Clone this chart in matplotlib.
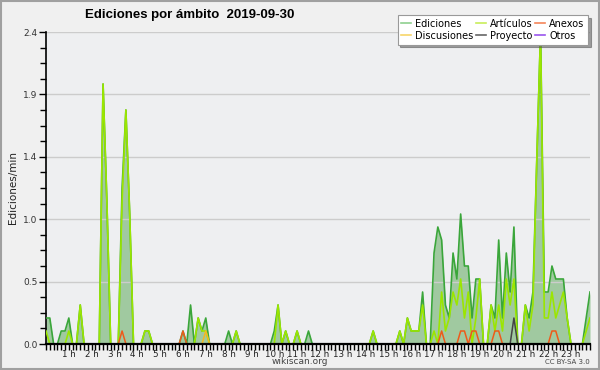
import matplotlib
matplotlib.use("Agg")
import matplotlib.pyplot as plt
from matplotlib.lines import Line2D
from matplotlib.ticker import MultipleLocator
import numpy as np

# 10-minute bins over the day, edits per minute
hour_labels = [f"{h} h" for h in range(1, 24)]

ediciones = [
    0.2, 0.2, 0, 0, 0.1, 0.1,
    0.2, 0, 0, 0.3, 0, 0,
    0, 0, 0, 2.0, 1.1, 0,
    0, 0, 1.2, 1.8, 1.0, 0,
    0, 0, 0.1, 0.1, 0, 0,
    0, 0, 0, 0, 0, 0,
    0.1, 0, 0.3, 0, 0.2, 0.1,
    0.2, 0, 0, 0, 0, 0,
    0.1, 0, 0.1, 0, 0, 0,
    0, 0, 0, 0, 0, 0,
    0.1, 0.3, 0, 0.1, 0, 0,
    0.1, 0, 0, 0.1, 0, 0,
    0, 0, 0, 0, 0, 0,
    0, 0, 0, 0, 0, 0,
    0, 0, 0.1, 0, 0, 0,
    0, 0, 0, 0.1, 0, 0.2,
    0.1, 0.1, 0.1, 0.4, 0, 0,
    0.7, 0.9, 0.8, 0.3, 0.2, 0.7,
    0.5, 1.0, 0.6, 0.6, 0.2, 0.5,
    0.5, 0, 0, 0.3, 0.2, 0.8,
    0.2, 0.7, 0.4, 0.9, 0, 0,
    0.3, 0.2, 0.4, 1.4, 2.4, 0.4,
    0.4, 0.6, 0.5, 0.5, 0.5, 0.2,
    0, 0, 0, 0, 0.2, 0.4,
]

articulos = [
    0.1, 0, 0, 0, 0, 0,
    0.1, 0, 0, 0.3, 0, 0,
    0, 0, 0, 2.0, 1.1, 0,
    0, 0, 1.1, 1.8, 1.0, 0,
    0, 0, 0.1, 0.1, 0, 0,
    0, 0, 0, 0, 0, 0,
    0, 0, 0, 0, 0.2, 0.1,
    0.1, 0, 0, 0, 0, 0,
    0, 0, 0.1, 0, 0, 0,
    0, 0, 0, 0, 0, 0,
    0, 0.3, 0, 0.1, 0, 0,
    0.1, 0, 0, 0, 0, 0,
    0, 0, 0, 0, 0, 0,
    0, 0, 0, 0, 0, 0,
    0, 0, 0.1, 0, 0, 0,
    0, 0, 0, 0.1, 0, 0.2,
    0.1, 0.1, 0.1, 0.3, 0, 0,
    0.1, 0, 0.4, 0.1, 0.2, 0.4,
    0.3, 0.5, 0.2, 0.4, 0, 0.2,
    0.5, 0, 0, 0.3, 0.1, 0.3,
    0.1, 0.5, 0.3, 0.5, 0, 0,
    0.3, 0.1, 0.3, 1.4, 2.4, 0.2,
    0.2, 0.4, 0.2, 0.3, 0.4, 0.2,
    0, 0, 0, 0, 0.1, 0.2,
]

anexos = [0.0] * 144
for i in [20, 36, 104, 109, 110, 112, 113, 118, 119, 133, 134]:
    anexos[i] = 0.1

discusiones = [0.0] * 144
discusiones[42] = 0.1

proyecto = [0.0] * 144
proyecto[123] = 0.2

otros = [0.0] * 144

x = np.arange(len(ediciones))

BG = "#eeeff1"
fig = plt.figure(figsize=(6, 3.7), dpi=100, facecolor="#f0f0f0")
ax = fig.add_axes([46 / 600, 26 / 370, 544 / 600, 312 / 370])
ax.set_facecolor(BG)

ax.fill_between(x, 0, ediciones, color="#a0c9a0", lw=0, zorder=1)
ax.plot(x, ediciones, color="#3aa63a", lw=1.2, zorder=3)
ax.plot(x, articulos, color="#9be600", lw=1.2, zorder=4)
ax.plot(x, discusiones, color="#f5b820", lw=1.1, zorder=5)
ax.plot(x, anexos, color="#ee5a1a", lw=1.1, zorder=5)
ax.plot(x, proyecto, color="#444444", lw=1.1, zorder=5)
ax.plot(x, otros, color="#8844ee", lw=1.1, zorder=2)

ax.set_xlim(0, 143)
ax.set_ylim(0, 2.4)

# y ticks
yt = np.arange(0, 2.41, 0.48)
ax.set_yticks(yt)
ax.set_yticklabels([f"{v:.1f}" for v in yt], fontsize=6.5, color="#333333")
ax.yaxis.set_minor_locator(MultipleLocator(0.12))
ax.grid(axis="y", color="#cccccc", lw=1, zorder=0)

# x ticks: every 10 min, hour labels
ax.xaxis.set_minor_locator(MultipleLocator(1))
ax.set_xticks([6 * h for h in range(1, 24)])
ax.set_xticklabels(hour_labels, fontsize=6.3, color="#222222")
ax.tick_params(axis="x", which="both", length=4, width=1, direction="out",
               pad=0)
ax.tick_params(axis="y", which="major", length=5, width=1, pad=1)
ax.tick_params(axis="y", which="minor", length=4, width=1)

for s in ["top", "right"]:
    ax.spines[s].set_visible(False)
ax.spines["left"].set_linewidth(1.2)
ax.spines["bottom"].set_linewidth(1.6)
ax.spines["bottom"].set_zorder(10)

ax.set_ylabel("Ediciones/min", fontsize=7.5, color="#222222", labelpad=4)

fig.text(85 / 600, 1 - 15 / 370, "Ediciones por ámbito  2019-09-30",
         fontsize=9.5, fontweight="bold", ha="left", va="center",
         family=["Liberation Sans", "DejaVu Sans"])
fig.text(300 / 600, 1 - 362 / 370, "wikiscan.org", fontsize=6.5,
         color="#444444", ha="center", va="center")
fig.text(590 / 600, 1 - 362 / 370, "CC BY-SA 3.0", fontsize=5,
         color="#444444", ha="right", va="center")

handles = [
    Line2D([], [], color="#8fd08f", lw=1.2, label="Ediciones"),
    Line2D([], [], color="#f7d56a", lw=1.2, label="Discusiones"),
    Line2D([], [], color="#c8ee5a", lw=1.2, label="Artículos"),
    Line2D([], [], color="#666666", lw=1.2, label="Proyecto"),
    Line2D([], [], color="#f5855a", lw=1.2, label="Anexos"),
    Line2D([], [], color="#9955ee", lw=1.2, label="Otros"),
]
leg = fig.legend(handles=handles, ncol=3, loc="upper right",
                 bbox_to_anchor=(593 / 600, 1 - 10 / 370), fontsize=7,
                 frameon=True, fancybox=False, shadow=True, framealpha=1,
                 edgecolor="#999999", handlelength=1.0, handletextpad=0.4,
                 columnspacing=0.3, labelspacing=0.2, borderpad=0.4)
leg.get_frame().set_linewidth(0.8)

# outer border
fig.patches.append(plt.Rectangle((0.001, 0.002), 0.997, 0.995, fill=False,
                                 edgecolor="#a0a0a0", lw=1.5,
                                 transform=fig.transFigure))

fig.savefig("out.png", dpi=100, facecolor=fig.get_facecolor())
